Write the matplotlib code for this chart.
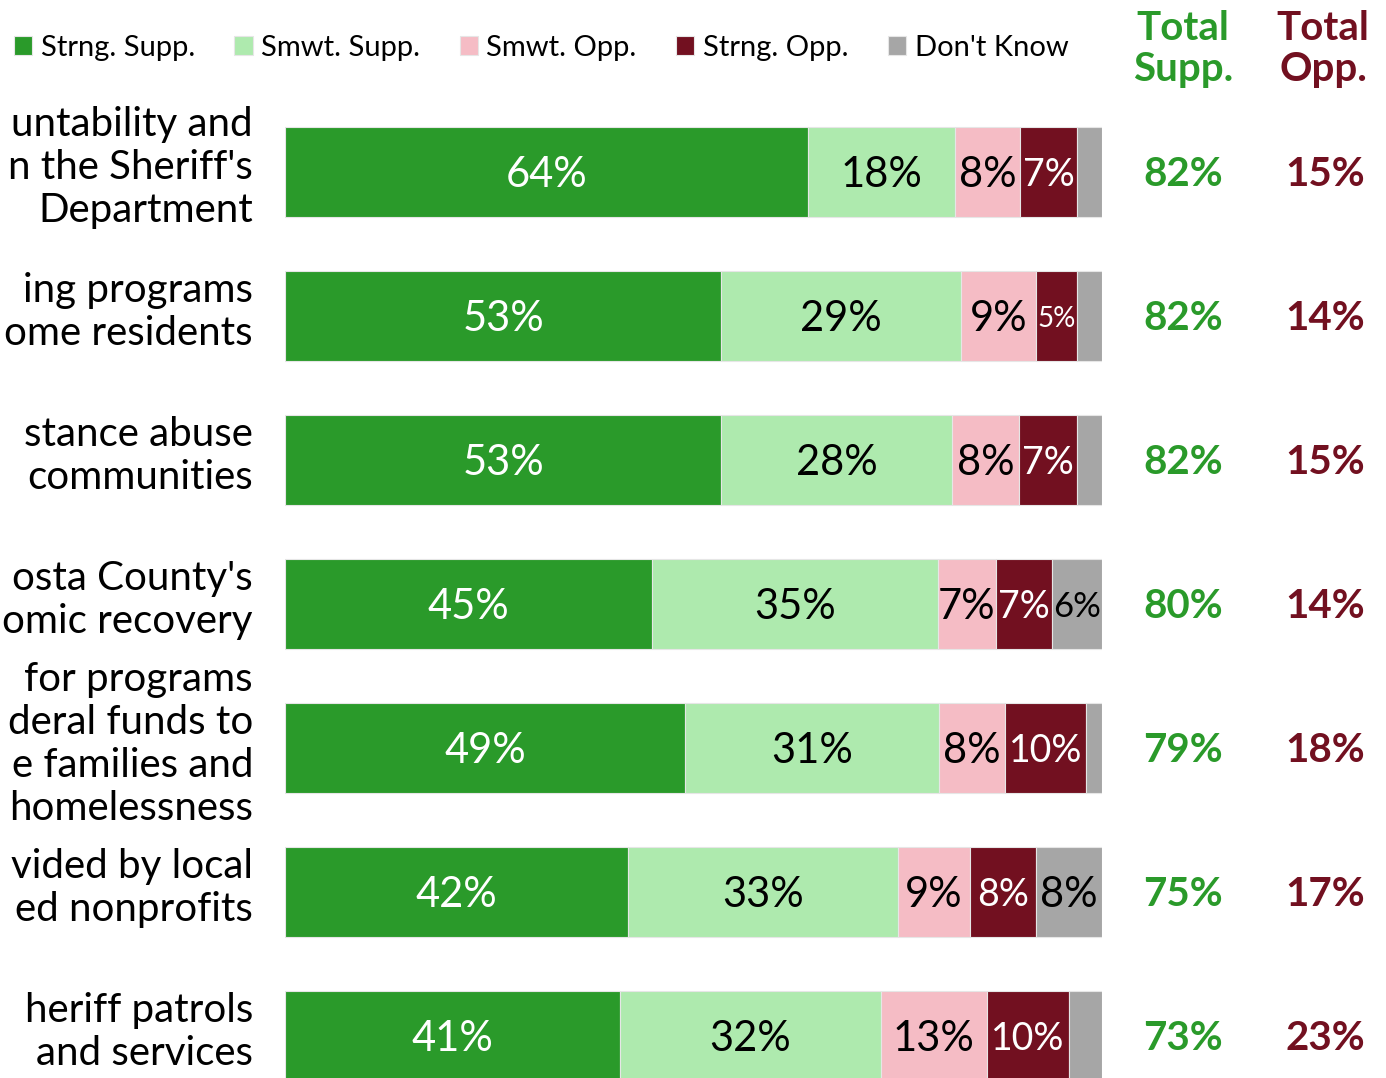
import matplotlib.pyplot as plt
from matplotlib.transforms import blended_transform_factory

plt.rcParams['font.family'] = ['Lato', 'DejaVu Sans']

# row labels as visible in the (cropped) picture
labels = [
    "untability and\nn the Sheriff's\nDepartment",
    "ing programs\nome residents",
    "stance abuse\ncommunities",
    "osta County's\nomic recovery",
    "for programs\nderal funds to\ne families and\nhomelessness",
    "vided by local\ned nonprofits",
    "heriff patrols\nand services",
]

series = ["Strng. Supp.", "Smwt. Supp.", "Smwt. Opp.", "Strng. Opp.", "Don't Know"]
strong_supp = [64.0, 53.4, 53.4, 44.9, 49.0, 42.0, 41.0]
smwt_supp = [18.0, 29.3, 28.3, 35.0, 31.1, 33.0, 31.9]
smwt_opp = [8.0, 9.2, 8.1, 7.1, 8.0, 8.9, 13.0]
strong_opp = [7.0, 5.0, 7.1, 6.9, 9.9, 8.0, 10.0]
dont_know = [3.0, 3.1, 3.1, 6.1, 2.0, 8.1, 4.1]

total_supp = [82, 82, 82, 80, 79, 75, 73]
total_opp = [15, 14, 15, 14, 18, 17, 23]

colors = ["#2a9a2a", "#aeeaae", "#f5bcc5", "#721020", "#a6a6a6"]
text_colors = ["white", "black", "black", "white", "black"]
green_txt = "#2a9a2a"
red_txt = "#721020"

W, H = 1386, 1078
fig = plt.figure(figsize=(W / 100, H / 100), dpi=100)

# axes spans the bar area horizontally and the whole height vertically
ax = fig.add_axes([285 / W, 0, 817 / W, 1])
row0, step = 172, 144
ax.set_xlim(0, 100)
ax.set_ylim((H - row0) / step, -row0 / step)
ax.axis('off')

ypos = list(range(len(labels)))
data = [strong_supp, smwt_supp, smwt_opp, strong_opp, dont_know]
left = [0.0] * len(labels)
handles = []
for k, vals in enumerate(data):
    bars = ax.barh(ypos, vals, left=left, height=0.625, color=colors[k],
                   edgecolor='#e6e6e6', linewidth=0.8, label=series[k])
    handles.append(bars)
    for i, v in enumerate(vals):
        if v >= 4.5:
            fs = 30
            if v < 5.5:
                fs = 20
            elif k == 4 and v < 7:
                fs = 25
            elif k == 3 and (v < 8.5 or v >= 9.5):
                fs = 27
            ax.text(left[i] + v / 2, i + 0.02, f"{v:.0f}%", ha='center', va='center',
                    fontsize=fs, color=text_colors[k])
    left = [a + b for a, b in zip(left, vals)]

# left labels, right-aligned; total columns on the right
tr = blended_transform_factory(fig.transFigure, ax.transData)
for i, lab in enumerate(labels):
    ax.text(253 / W, i - 0.03, lab, transform=tr, ha='right', va='center',
            fontsize=29, linespacing=1.2, color='black')
    ax.text(1183 / W, i + 0.02, f"{total_supp[i]}%", transform=tr, ha='center',
            va='center', fontsize=29, fontweight='bold', color=green_txt)
    ax.text(1325 / W, i + 0.02, f"{total_opp[i]}%", transform=tr, ha='center',
            va='center', fontsize=29, fontweight='bold', color=red_txt)

fig.text(1183 / W, 1 - 49 / H, "Total\nSupp.", ha='center', va='center',
         fontsize=29, fontweight='bold', color=green_txt, linespacing=1.12)
fig.text(1323 / W, 1 - 49 / H, "Total\nOpp.", ha='center', va='center',
         fontsize=29, fontweight='bold', color=red_txt, linespacing=1.12)

fig.legend(handles=handles, loc='center left', bbox_to_anchor=(14 / W, 1 - 48 / H),
           ncol=5, frameon=False, fontsize=21, handlelength=0.62, handleheight=0.62,
           handletextpad=0.3, columnspacing=1.35, borderaxespad=0, borderpad=0)

fig.savefig("out.png", dpi=100)
